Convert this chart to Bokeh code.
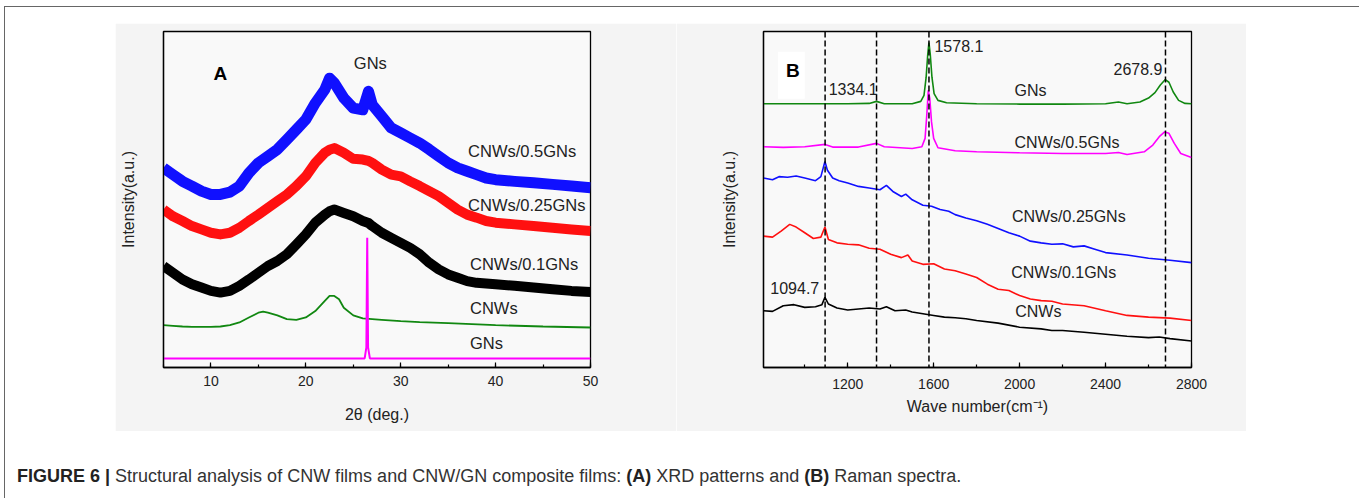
from bokeh.plotting import figure
from bokeh.models import Range1d, SingleIntervalTicker, FixedTicker, Span, Div, Spacer, BoxAnnotation
from bokeh.layouts import column, row
from bokeh.embed import file_html
from bokeh.resources import INLINE
from bokeh.core.properties import value

FONT = "Liberation Sans"

# ---------------- Panel A : XRD ----------------
xrd_x = [5, 6, 7, 8, 9, 10, 11, 12, 13, 14, 15, 16, 17, 18, 19, 20, 21, 22, 22.5, 23, 24, 25, 26, 26.6, 27,
         28, 29, 30, 31, 32, 33, 34, 35, 36, 37, 38, 39, 40, 42, 44, 46, 48, 50]
xrd_05 = [59.4, 57.4, 55.4, 54.0, 52.5, 51.5, 51.5, 52.2, 54.0, 57.9, 60.9, 62.9, 64.9, 67.8, 70.8, 73.8, 78.7,
          82.7, 86.1, 84.7, 80.2, 77.2, 76.7, 82.2, 78.2, 74.8, 71.3, 69.8, 68.3, 66.8, 64.9, 62.9, 60.9, 59.4,
          58.4, 57.4, 56.4, 55.9, 55.4, 55.0, 54.5, 54.0, 53.5]
xrd_025 = [47.0, 45.0, 43.6, 42.1, 41.1, 40.1, 39.6, 40.1, 41.6, 43.6, 45.5, 47.5, 49.5, 51.5, 54.0, 56.9, 60.9,
           63.9, 64.8, 65.3, 63.9, 62.1, 61.9, 61.5, 60.9, 58.9, 57.4, 56.9, 55.4, 54.0, 52.5, 51.0, 49.0, 47.0,
           45.5, 44.6, 43.6, 43.1, 42.6, 42.1, 41.6, 41.1, 40.6]
xrd_01 = [30.2, 28.2, 26.2, 24.8, 23.8, 22.8, 22.3, 22.8, 24.3, 26.2, 28.2, 30.2, 31.7, 33.7, 36.6, 39.6, 43.1,
          45.5, 46.5, 47.0, 46.0, 45.0, 43.6, 43.0, 42.1, 40.1, 38.6, 37.1, 35.6, 33.7, 31.2, 29.2, 27.7, 26.7,
          25.7, 25.2, 25.0, 24.8, 24.3, 23.8, 23.3, 22.8, 22.5]
cnw_x = [5, 6, 7, 8, 9, 10, 11, 12, 13, 14, 15, 15.5, 16, 17, 18, 19, 20, 21, 22, 22.5, 23, 23.5, 24, 25, 26,
         27, 28, 30, 32, 35, 40, 45, 50]
cnw_y = [12.6, 12.4, 12.2, 12.1, 12.1, 12.1, 12.2, 12.6, 13.4, 14.9, 16.3, 16.6, 16.3, 15.5, 14.4, 14.2, 14.9,
         16.8, 19.8, 21.3, 21.3, 20.3, 17.8, 15.5, 14.6, 14.4, 14.2, 13.8, 13.5, 13.2, 12.6, 12.2, 11.9]
gn_x = [5, 26.2, 26.38, 26.47, 26.56, 26.75, 50]
gn_y = [2.7, 2.7, 6.0, 38.6, 6.0, 2.7, 2.7]

a_ticks_major = 10
a_labels = ["CNWs/0.5GNs", "CNWs/0.25GNs", "CNWs/0.1GNs", "CNWs", "GNs", "GNs"]
a_label_x = [37.1, 37.1, 37.3, 37.3, 37.3, 25.06]
a_label_y = [64.4, 48.5, 30.7, 17.6, 7.4, 90.6]

# ---------------- Panel B : Raman ----------------
gnr_x = [808, 1000, 1200, 1300, 1334, 1370, 1500, 1540, 1555, 1565, 1572, 1578, 1584, 1592, 1602, 1620, 1660,
         1800, 2000, 2200, 2400, 2460, 2500, 2560, 2600, 2630, 2655, 2678, 2695, 2715, 2740, 2770, 2800]
gnr_y = [78.5, 78.5, 78.5, 78.6, 79.2, 78.5, 78.5, 79.2, 81.0, 86.4, 92.8, 96.7, 93.3, 86.4, 81.5, 79.5, 78.8,
         78.5, 78.4, 78.4, 78.5, 79.0, 78.5, 79.0, 80.2, 81.8, 84.1, 85.7, 84.9, 82.0, 79.5, 78.6, 78.5]
r05_x = [808, 900, 1000, 1094, 1130, 1250, 1334, 1370, 1500, 1545, 1560, 1568, 1575, 1582, 1590, 1600, 1620,
         1700, 1800, 2000, 2200, 2400, 2460, 2500, 2580, 2620, 2650, 2675, 2695, 2720, 2750, 2800]
r05_y = [65.7, 65.5, 65.7, 66.4, 65.6, 65.6, 66.7, 65.7, 65.2, 65.7, 68.2, 75.1, 82.5, 80.0, 73.1, 68.2, 65.4,
         64.5, 64.2, 63.9, 63.7, 63.7, 64.0, 63.4, 64.2, 66.2, 68.7, 70.1, 69.7, 66.7, 63.7, 62.5]
r025_x = [808, 850, 880, 920, 960, 1000, 1050, 1075, 1094, 1105, 1130, 1160, 1200, 1250, 1300, 1350, 1380,
          1410, 1450, 1470, 1500, 1550, 1590, 1630, 1670, 1700, 1750, 1800, 1850, 1900, 1950, 2000, 2050,
          2100, 2150, 2200, 2250, 2300, 2350, 2400, 2500, 2600, 2700, 2800]
r025_y = [56.4, 55.9, 56.8, 56.6, 57.0, 56.4, 55.6, 56.8, 61.3, 58.8, 56.4, 55.6, 54.9, 53.9, 53.4, 52.9, 54.2,
          52.4, 50.9, 51.6, 49.9, 48.3, 48.0, 47.0, 46.5, 45.5, 44.5, 43.7, 42.6, 41.4, 40.1, 39.1, 37.6,
          37.1, 36.7, 36.8, 35.9, 36.2, 35.2, 34.2, 33.5, 32.5, 31.9, 31.2]
r01_x = [808, 850, 890, 930, 960, 1000, 1040, 1075, 1094, 1110, 1150, 1200, 1250, 1300, 1350, 1400, 1450,
         1480, 1500, 1550, 1600, 1650, 1700, 1750, 1800, 1850, 1900, 1950, 2000, 2050, 2100, 2150, 2200,
         2300, 2400, 2500, 2600, 2700, 2800]
r01_y = [39.1, 38.8, 40.6, 42.6, 41.8, 40.1, 38.4, 38.8, 41.8, 38.1, 37.1, 36.7, 36.5, 35.5, 35.2, 33.7, 32.7,
         33.5, 31.7, 30.7, 30.9, 29.3, 28.8, 27.8, 26.8, 24.8, 23.3, 22.9, 21.4, 20.4, 19.9, 19.7, 18.9,
         18.4, 16.9, 15.5, 15.0, 14.7, 14.0]
rc_x = [808, 850, 900, 950, 1000, 1050, 1080, 1094, 1110, 1150, 1200, 1250, 1300, 1350, 1380, 1420, 1470,
        1500, 1550, 1600, 1650, 1700, 1750, 1800, 1900, 2000, 2100, 2150, 2200, 2300, 2400, 2500, 2600,
        2650, 2700, 2800]
rc_y = [16.9, 16.7, 18.4, 18.7, 17.9, 18.1, 18.7, 20.9, 18.9, 17.7, 17.1, 17.4, 17.7, 17.4, 18.1, 16.9, 17.1,
        16.5, 16.0, 15.5, 15.0, 14.8, 14.5, 14.0, 13.2, 12.0, 11.5, 11.0, 11.0, 10.5, 9.9, 9.3, 8.9,
        9.1, 8.6, 7.9]
peaks = [1094.7, 1334.1, 1578.1, 2678.9]
b_labels = ["1578.1", "2678.9", "1334.1", "GNs", "CNWs/0.5GNs", "CNWs/0.25GNs", "CNWs/0.1GNs", "CNWs", "1094.7"]
b_label_x = [1603.7, 2437.0, 1111.5, 1976.4, 1976.4, 1964.0, 1961.0, 1979.5, 839.7]
b_label_y = [95.8, 88.9, 83.0, 82.5, 67.0, 45.0, 28.3, 16.6, 23.8]


def make_fig(width, xr, yr, mbl, mbr, mbt, mbb, interval, xlabel, ylab_standoff, tick_standoff, xlab_standoff):
    p = figure(width=width, height=408, x_range=Range1d(*xr), y_range=Range1d(*yr),
               output_backend="svg", toolbar_location=None,
               min_border_left=mbl, min_border_right=mbr, min_border_top=mbt, min_border_bottom=mbb)
    p.border_fill_color = "#f4f4f4"
    p.background_fill_color = "#f9f9f9"
    p.outline_line_color = "black"
    p.outline_line_width = 1.3
    p.grid.visible = False
    xa = p.xaxis[0]
    xa.ticker = SingleIntervalTicker(interval=interval, num_minor_ticks=2)
    xa.major_tick_in = 5
    xa.major_tick_out = 0
    xa.minor_tick_in = 3
    xa.minor_tick_out = 0
    xa.axis_line_width = 1.3
    xa.major_tick_line_width = 1.2
    xa.minor_tick_line_width = 1.2
    xa.major_label_text_font = FONT
    xa.major_label_text_font_size = "14px"
    xa.major_label_text_color = "#222222"
    xa.major_label_standoff = tick_standoff
    xa.axis_label = xlabel
    xa.axis_label_text_font = FONT
    xa.axis_label_text_font_size = "16px"
    xa.axis_label_text_font_style = "normal"
    xa.axis_label_text_color = "#222222"
    xa.axis_label_standoff = xlab_standoff
    ya = p.yaxis[0]
    ya.ticker = FixedTicker(ticks=[])
    ya.major_tick_in = 0
    ya.major_tick_out = 0
    ya.minor_tick_in = 0
    ya.minor_tick_out = 0
    ya.axis_line_width = 1.3
    ya.axis_label = "Intensity(a.u.)"
    ya.axis_label_text_font = FONT
    ya.axis_label_text_font_size = "16px"
    ya.axis_label_text_font_style = "normal"
    ya.axis_label_text_color = "#222222"
    ya.axis_label_standoff = ylab_standoff
    return p


pa = make_fig(561, (5, 50), (0, 100), 48, 86, 8, 64, a_ticks_major, "2θ (deg.)", 27, 8, 17)
pa.line(xrd_x, xrd_05, line_color="#1010ff", line_width=11, line_join="round")
pa.line(xrd_x, xrd_025, line_color="#ff1010", line_width=10, line_join="round")
pa.line(xrd_x, xrd_01, line_color="#000000", line_width=10, line_join="round")
pa.line(cnw_x, cnw_y, line_color="#118811", line_width=1.8)
pa.line(gn_x, gn_y, line_color="#ff00ff", line_width=2)
pa.text(a_label_x, a_label_y, text=a_labels, text_font=value(FONT), text_font_size="16.5px",
        text_baseline="middle", text_align="left", text_color="#222222")
pa.text([10.26], [87.4], text=["A"], text_font=value(FONT), text_font_size="19px", text_font_style="bold",
        text_baseline="middle", text_align="left", text_color="#000000")

pb = make_fig(570, (808, 2800), (0, 100), 87, 55, 8, 61, 400, "Wave number(cm⁻¹)", 26, 11, 6)
pb.add_layout(BoxAnnotation(left=875, right=1000, bottom=80, top=94, fill_color="white", fill_alpha=1,
                            line_color=None, level="underlay"))
for pk in peaks:
    pb.add_layout(Span(location=pk, dimension="height", line_color="black", line_width=1.5, line_dash="6 3"))
pb.line(gnr_x, gnr_y, line_color="#118811", line_width=1.6)
pb.line(r05_x, r05_y, line_color="#ff00ff", line_width=1.6)
pb.line(r025_x, r025_y, line_color="#1010ff", line_width=1.6)
pb.line(r01_x, r01_y, line_color="#ff1010", line_width=1.6)
pb.line(rc_x, rc_y, line_color="#000000", line_width=1.6)
pb.text(b_label_x, b_label_y, text=b_labels, text_font=value(FONT), text_font_size="16px",
        text_baseline="middle", text_align="left", text_color="#222222")
pb.text([912.7], [88.4], text=["B"], text_font=value(FONT), text_font_size="19px", text_font_style="bold",
        text_baseline="middle", text_align="left", text_color="#000000")

caption = Div(text=('<div style="font-family: \'Liberation Sans\', Arial, sans-serif; font-size:18px; '
                    'color:#333333; white-space:nowrap; padding-left:7px; padding-top:28px;">'
                    '<b style="color:#222222">FIGURE 6 |</b> Structural analysis of CNW films and CNW/GN '
                    'composite films: <b style="color:#222222">(A)</b> XRD patterns and '
                    '<b style="color:#222222">(B)</b> Raman spectra.</div>'),
              width=1347, height=65)

framed = column(
    Spacer(width=1347, height=16),
    row(Spacer(width=110, height=408), pa, pb, Spacer(width=106, height=408)),
    caption,
    styles={"border": "1px solid #666666"},
)
root = column(Spacer(width=1352, height=6), row(Spacer(width=4, height=491), framed))

open("out.html", "w").write(file_html(root, INLINE))
